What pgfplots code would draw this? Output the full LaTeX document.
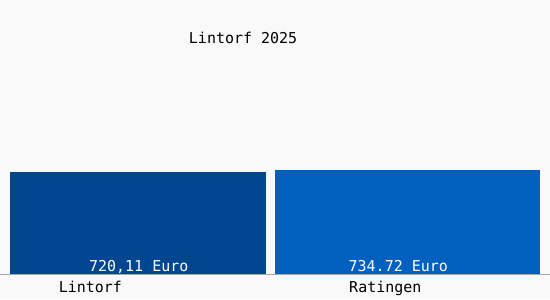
\documentclass[border=0pt]{standalone}
\usepackage{fontspec}
\setmonofont{DejaVu Sans Mono}
\usepackage{pgfplots}
\pgfplotsset{compat=1.18}
\definecolor{barA}{HTML}{02468F}
\definecolor{barB}{HTML}{0060C0}
\definecolor{bg}{HTML}{F9F9F9}
\newcommand{\cf}{\ttfamily\fontsize{15}{18}\selectfont}
\begin{document}
\begin{tikzpicture}
\begin{axis}[
  scale only axis, width=550pt, height=300pt,
  xmin=0, xmax=550, ymin=-174.9, ymax=1924.2,
  axis lines=none, clip=false,
  axis background/.style={fill=bg},
]
\addplot[ybar, bar shift=0pt, bar width=256, fill=barA, draw=none] coordinates {(138,720.11)};
\addplot[ybar, bar shift=0pt, bar width=265, fill=barB, draw=none] coordinates {(407.5,734.72)};
\addplot[gray!70, line width=1pt] coordinates {(0,-3)(550,-3)};
\node[anchor=base, font=\cf] at (axis cs:243,1616) {Lintorf 2025};
\node[anchor=base, text=white, font=\cf] at (axis cs:138.5,21) {720,11 Euro};
\node[anchor=base, text=white, font=\cf] at (axis cs:398.5,21) {734.72 Euro};
\node[anchor=base, font=\cf] at (axis cs:90,-126) {Lintorf};
\node[anchor=base, font=\cf] at (axis cs:385.5,-126) {Ratingen};
\end{axis}
\end{tikzpicture}
\end{document}
